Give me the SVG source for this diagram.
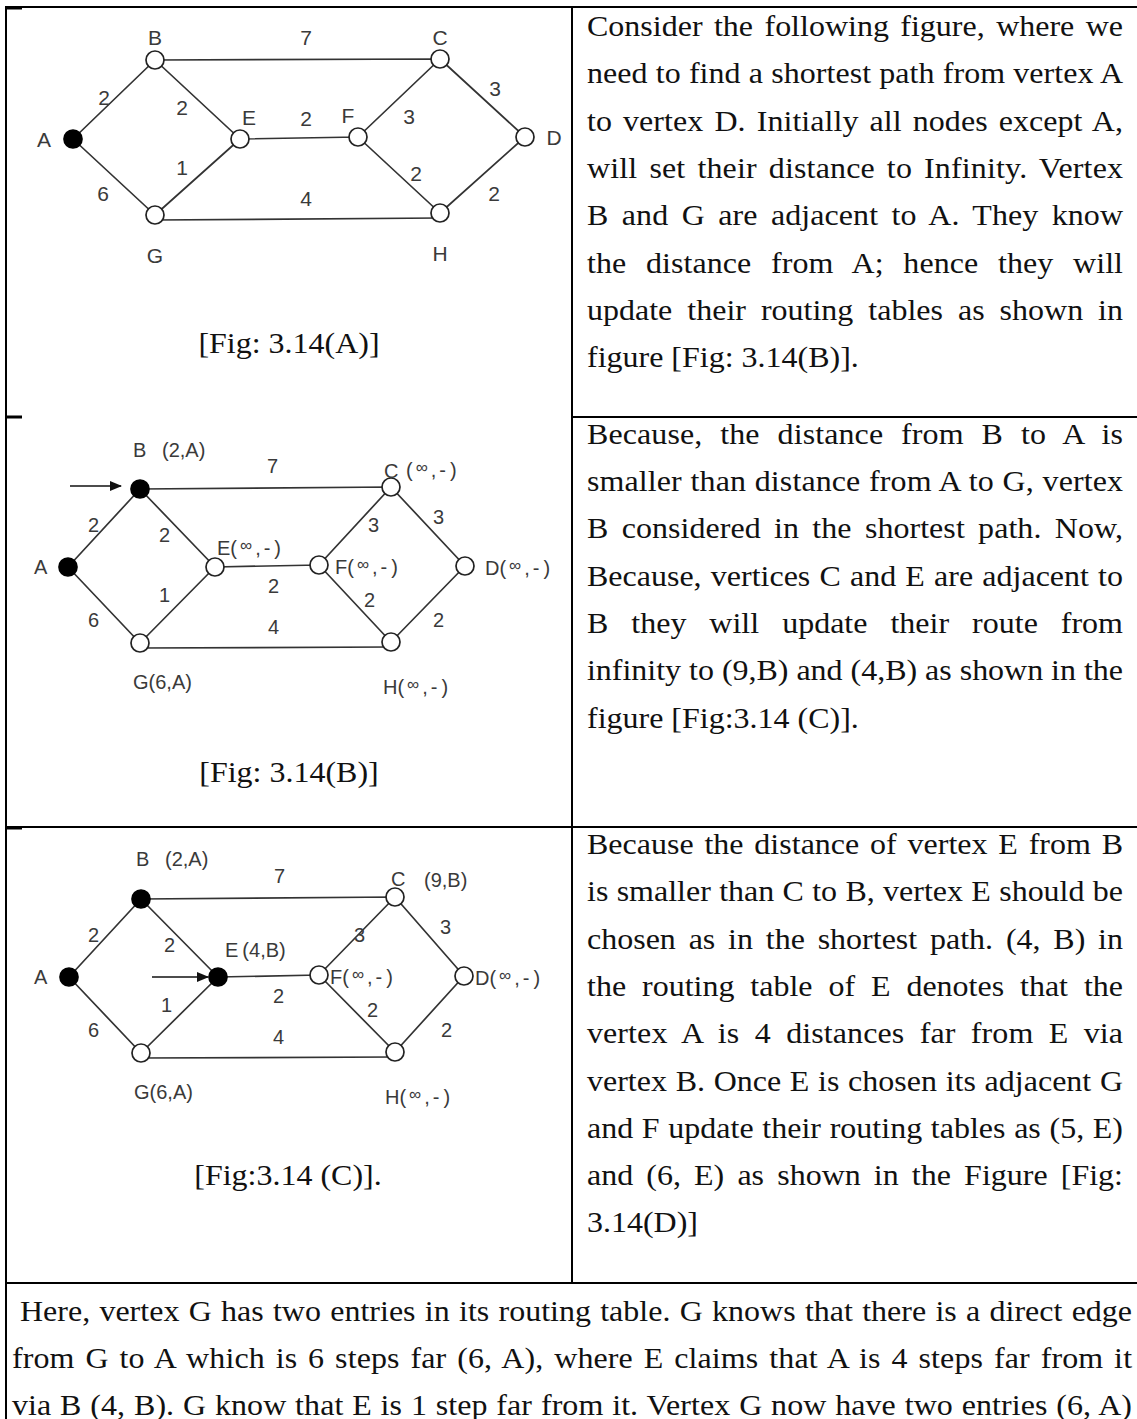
<svg xmlns="http://www.w3.org/2000/svg" width="1137" height="1419" viewBox="0 0 1137 1419">
<defs>
<style>
.t{font-family:"Liberation Serif","Times New Roman",serif;font-size:30px;fill:#111}
.c{text-anchor:middle}
.g{font-family:"Liberation Sans",Arial,sans-serif;font-size:20px;fill:#3a3a3a}
.ga{font-size:21px;text-anchor:middle}
.e{stroke:#333;stroke-width:1.7;fill:none}
.n{fill:#fff;stroke:#222;stroke-width:1.7}
.f{fill:#000;stroke:#000;stroke-width:1.7}
.r{stroke:#000;stroke-width:2;fill:none}
.s{font-size:17px}
</style>
<marker id="ah" viewBox="0 0 12 10" refX="11" refY="5" markerWidth="12" markerHeight="10" markerUnits="userSpaceOnUse" orient="auto"><path d="M0,0 L12,5 L0,10 z" fill="#111"/></marker>
</defs>
<rect width="1137" height="1419" fill="#fff"/>

<g id="table" class="r">
<path d="M5,7H1137 M6,6V1419 M572,6V1283 M572,417H1137 M5,827H1137 M5,1283H1137"/>
<path d="M5,8H22 M5,417H22 M5,828H22" stroke-width="3"/>
</g>

<g id="text-right">
<text class="t" transform="translate(587,36) scale(1.0667,1)" word-spacing="3.2" textLength="502.5" lengthAdjust="spacing">Consider the following figure, where we</text>
<text class="t" transform="translate(587,83) scale(1.0667,1)" word-spacing="0.1" textLength="502.5" lengthAdjust="spacing">need to find a shortest path from vertex A</text>
<text class="t" transform="translate(587,131) scale(1.0667,1)" word-spacing="2.87" textLength="502.5" lengthAdjust="spacing">to vertex D. Initially all nodes except A,</text>
<text class="t" transform="translate(587,178) scale(1.0667,1)" word-spacing="3.6" textLength="502.5" lengthAdjust="spacing">will set their distance to Infinity. Vertex</text>
<text class="t" transform="translate(587,225) scale(1.0667,1)" word-spacing="5" textLength="502.5" lengthAdjust="spacing">B and G are adjacent to A. They know</text>
<text class="t" transform="translate(587,273) scale(1.0667,1)" word-spacing="11" textLength="502.5" lengthAdjust="spacing">the distance from A; hence they will</text>
<text class="t" transform="translate(587,320) scale(1.0667,1)" word-spacing="6.5" textLength="502.5" lengthAdjust="spacing">update their routing tables as shown in</text>
<text class="t" transform="translate(587,367) scale(1.0667,1)">figure [Fig: 3.14(B)].</text>

<text class="t" transform="translate(587,444) scale(1.0667,1)" word-spacing="9.2" textLength="502.5" lengthAdjust="spacing">Because, the distance from B to A is</text>
<text class="t" transform="translate(587,491) scale(1.0667,1)" word-spacing="0.6" textLength="502.5" lengthAdjust="spacing">smaller than distance from A to G, vertex</text>
<text class="t" transform="translate(587,538) scale(1.0667,1)" word-spacing="4.9" textLength="502.5" lengthAdjust="spacing">B considered in the shortest path. Now,</text>
<text class="t" transform="translate(587,586) scale(1.0667,1)" word-spacing="1.1" textLength="502.5" lengthAdjust="spacing">Because, vertices C and E are adjacent to</text>
<text class="t" transform="translate(587,633) scale(1.0667,1)" word-spacing="14" textLength="502.5" lengthAdjust="spacing">B they will update their route from</text>
<text class="t" transform="translate(587,680) scale(1.0667,1)" textLength="502.5" lengthAdjust="spacing">infinity to (9,B) and (4,B) as shown in the</text>
<text class="t" transform="translate(587,728) scale(1.0667,1)">figure [Fig:3.14 (C)].</text>

<text class="t" transform="translate(587,854) scale(1.0667,1)" word-spacing="2.6" textLength="502.5" lengthAdjust="spacing">Because the distance of vertex E from B</text>
<text class="t" transform="translate(587,901) scale(1.0667,1)" word-spacing="0.3" textLength="502.5" lengthAdjust="spacing">is smaller than C to B, vertex E should be</text>
<text class="t" transform="translate(587,949) scale(1.0667,1)" word-spacing="4.5" textLength="502.5" lengthAdjust="spacing">chosen as in the shortest path. (4, B) in</text>
<text class="t" transform="translate(587,996) scale(1.0667,1)" word-spacing="7.4" textLength="502.5" lengthAdjust="spacing">the routing table of E denotes that the</text>
<text class="t" transform="translate(587,1043) scale(1.0667,1)" word-spacing="6.8" textLength="502.5" lengthAdjust="spacing">vertex A is 4 distances far from E via</text>
<text class="t" transform="translate(587,1091) scale(1.0667,1)" word-spacing="0.6" textLength="502.5" lengthAdjust="spacing">vertex B. Once E is chosen its adjacent G</text>
<text class="t" transform="translate(587,1138) scale(1.0667,1)" word-spacing="0.6" textLength="502.5" lengthAdjust="spacing">and F update their routing tables as (5, E)</text>
<text class="t" transform="translate(587,1185) scale(1.0667,1)" word-spacing="4.8" textLength="502.5" lengthAdjust="spacing">and (6, E) as shown in the Figure [Fig:</text>
<text class="t" transform="translate(587,1232) scale(1.0667,1)">3.14(D)]</text>
</g>

<g id="text-bottom">
<text class="t" transform="translate(20,1321) scale(1.0667,1)" word-spacing="1.19" textLength="1042.5" lengthAdjust="spacing">Here, vertex G has two entries in its routing table. G knows that there is a direct edge</text>
<text class="t" transform="translate(12,1368) scale(1.0667,1)" word-spacing="2.59" textLength="1050" lengthAdjust="spacing">from G to A which is 6 steps far (6, A), where E claims that A is 4 steps far from it</text>
<text class="t" transform="translate(12,1415) scale(1.0667,1)" word-spacing="0.68" textLength="1050" lengthAdjust="spacing">via B (4, B). G know that E is 1 step far from it. Vertex G now have two entries (6, A)</text>
</g>

<g id="captions">
<text class="t c" transform="translate(289,353) scale(1.0667,1)">[Fig: 3.14(A)]</text>
<text class="t c" transform="translate(289,782) scale(1.0667,1)">[Fig: 3.14(B)]</text>
<text class="t c" transform="translate(288,1185) scale(1.0667,1)">[Fig:3.14 (C)].</text>
</g>

<!-- Figure A -->
<g id="figA-connectors">
<path class="e" d="M73,139 L155,60 M155,60 L240,139 M155,60 L440,59 M240,139 L358,137 M358,137 L440,59 M440,59 L525,137 M73,139 L155,215 M240,139 L155,215 M155,220 L440,218 M358,137 L440,213 M440,213 L525,137"/>
<g class="g ga">
<text x="306" y="45">7</text>
<text x="104" y="105">2</text>
<text x="182" y="115">2</text>
<text x="306" y="126">2</text>
<text x="409" y="124">3</text>
<text x="495" y="96">3</text>
<text x="182" y="175">1</text>
<text x="103" y="201">6</text>
<text x="306" y="206">4</text>
<text x="416" y="181">2</text>
<text x="494" y="201">2</text>
</g>
</g>
<g id="figA-A"><circle class="f" cx="73" cy="139" r="9"/><text class="g ga" x="44" y="147">A</text></g>
<g id="figA-B"><circle class="n" cx="155" cy="60" r="9"/><text class="g ga" x="155" y="45">B</text></g>
<g id="figA-C"><circle class="n" cx="440" cy="59" r="9"/><text class="g ga" x="440" y="45">C</text></g>
<g id="figA-E"><circle class="n" cx="240" cy="139" r="9"/><text class="g ga" x="249" y="125">E</text></g>
<g id="figA-F"><circle class="n" cx="358" cy="137" r="9"/><text class="g ga" x="348" y="123">F</text></g>
<g id="figA-D"><circle class="n" cx="525" cy="137" r="9"/><text class="g ga" x="554" y="145">D</text></g>
<g id="figA-G"><circle class="n" cx="155" cy="215" r="9"/><text class="g ga" x="155" y="263">G</text></g>
<g id="figA-H"><circle class="n" cx="440" cy="213" r="9"/><text class="g ga" x="440" y="261">H</text></g>

<!-- Figure B -->
<g id="figB-connectors">
<path class="e" d="M68,567 L140,489 M140,489 L215,567 M140,489 L391,487 M215,567 L319,565 M319,565 L391,487 M391,487 L465,566 M68,567 L140,643 M215,567 L140,643 M140,648 L391,647 M319,565 L391,642 M391,642 L465,566"/>
<line x1="70" y1="486" x2="121" y2="486" stroke="#111" stroke-width="1.7" marker-end="url(#ah)"/>
<g class="g">
<text x="267" y="473">7</text>
<text x="88" y="532">2</text>
<text x="159" y="542">2</text>
<text x="368" y="532">3</text>
<text x="433" y="524">3</text>
<text x="268" y="593">2</text>
<text x="159" y="602">1</text>
<text x="88" y="627">6</text>
<text x="364" y="607">2</text>
<text x="433" y="627">2</text>
<text x="268" y="634">4</text>
</g>
</g>
<g id="figB-A"><circle class="f" cx="68" cy="567" r="9"/><text class="g" x="34" y="574">A</text></g>
<g id="figB-B"><circle class="f" cx="140" cy="489" r="9"/><text class="g" x="133" y="457">B</text><text class="g" x="162" y="457">(2,A)</text></g>
<g id="figB-C"><circle class="n" cx="391" cy="487" r="9"/><text class="g" x="384" y="478">C</text><text class="g" x="406" y="477">(<tspan class="s" dx="3" dy="-4">∞</tspan><tspan dx="3" dy="4">,</tspan><tspan dx="3">-</tspan><tspan dx="4">)</tspan></text></g>
<g id="figB-E"><circle class="n" cx="215" cy="567" r="9"/><text class="g" x="217" y="555">E(<tspan class="s" dx="3" dy="-4">∞</tspan><tspan dx="3" dy="4">,</tspan><tspan dx="3">-</tspan><tspan dx="4">)</tspan></text></g>
<g id="figB-F"><circle class="n" cx="319" cy="565" r="9"/><text class="g" x="335" y="574">F(<tspan class="s" dx="3" dy="-4">∞</tspan><tspan dx="3" dy="4">,</tspan><tspan dx="3">-</tspan><tspan dx="4">)</tspan></text></g>
<g id="figB-D"><circle class="n" cx="465" cy="566" r="9"/><text class="g" x="485" y="575">D(<tspan class="s" dx="3" dy="-4">∞</tspan><tspan dx="3" dy="4">,</tspan><tspan dx="3">-</tspan><tspan dx="4">)</tspan></text></g>
<g id="figB-G"><circle class="n" cx="140" cy="643" r="9"/><text class="g" x="133" y="689">G(6,A)</text></g>
<g id="figB-H"><circle class="n" cx="391" cy="642" r="9"/><text class="g" x="383" y="694">H(<tspan class="s" dx="3" dy="-4">∞</tspan><tspan dx="3" dy="4">,</tspan><tspan dx="3">-</tspan><tspan dx="4">)</tspan></text></g>

<!-- Figure C -->
<g id="figC-connectors">
<path class="e" d="M69,977 L141,899 M141,899 L218,977 M141,899 L395,897 M218,977 L319,975 M319,975 L395,897 M395,897 L464,976 M69,977 L141,1053 M218,977 L141,1053 M141,1058 L395,1057 M319,975 L395,1052 M395,1052 L464,976"/>
<line x1="152" y1="977" x2="208" y2="977" stroke="#111" stroke-width="1.7" marker-end="url(#ah)"/>
<g class="g">
<text x="274" y="883">7</text>
<text x="88" y="942">2</text>
<text x="164" y="952">2</text>
<text x="354" y="942">3</text>
<text x="440" y="934">3</text>
<text x="273" y="1003">2</text>
<text x="161" y="1012">1</text>
<text x="88" y="1037">6</text>
<text x="367" y="1017">2</text>
<text x="441" y="1037">2</text>
<text x="273" y="1044">4</text>
</g>
</g>
<g id="figC-A"><circle class="f" cx="69" cy="977" r="9"/><text class="g" x="34" y="984">A</text></g>
<g id="figC-B"><circle class="f" cx="141" cy="899" r="9"/><text class="g" x="136" y="866">B</text><text class="g" x="165" y="866">(2,A)</text></g>
<g id="figC-C"><circle class="n" cx="395" cy="897" r="9"/><text class="g" x="391" y="886">C</text><text class="g" x="424" y="887">(9,B)</text></g>
<g id="figC-E"><circle class="f" cx="218" cy="977" r="9"/><text class="g" x="225" y="957">E<tspan dx="4">(4,B)</tspan></text></g>
<g id="figC-F"><circle class="n" cx="319" cy="975" r="9"/><text class="g" x="330" y="984">F(<tspan class="s" dx="3" dy="-4">∞</tspan><tspan dx="3" dy="4">,</tspan><tspan dx="3">-</tspan><tspan dx="4">)</tspan></text></g>
<g id="figC-D"><circle class="n" cx="464" cy="976" r="9"/><text class="g" x="475" y="985">D(<tspan class="s" dx="3" dy="-4">∞</tspan><tspan dx="3" dy="4">,</tspan><tspan dx="3">-</tspan><tspan dx="4">)</tspan></text></g>
<g id="figC-G"><circle class="n" cx="141" cy="1053" r="9"/><text class="g" x="134" y="1099">G(6,A)</text></g>
<g id="figC-H"><circle class="n" cx="395" cy="1052" r="9"/><text class="g" x="385" y="1104">H(<tspan class="s" dx="3" dy="-4">∞</tspan><tspan dx="3" dy="4">,</tspan><tspan dx="3">-</tspan><tspan dx="4">)</tspan></text></g>
</svg>
